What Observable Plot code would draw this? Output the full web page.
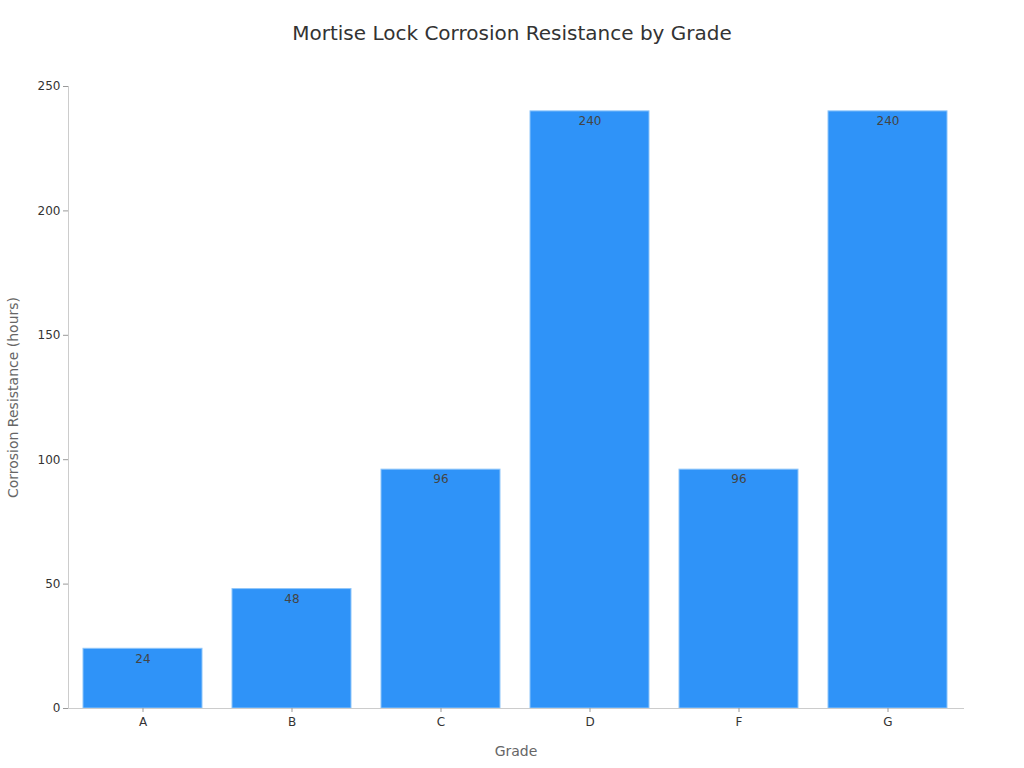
<!DOCTYPE html>
<html>
<head>
<meta charset="utf-8">
<script src="https://cdn.jsdelivr.net/npm/d3@7"></script>
<script src="https://cdn.jsdelivr.net/npm/@observablehq/plot@0.6"></script>
<style>
  body { margin: 0; background: #fff; font-family: "DejaVu Sans", sans-serif; }
  #title { height: 66px; line-height: 66px; text-align: center; font-size: 20px; color: #333; width: 1024px; }
  #chart svg { display: block; }
</style>
</head>
<body>
<div id="title">Mortise Lock Corrosion Resistance by Grade</div>
<div id="chart"></div>
<script>
const grades = ["A", "B", "C", "D", "F", "G"];
const hours = [24, 48, 96, 240, 96, 240];
const yTicks = [0, 50, 100, 150, 200, 250];

const data = grades.map((g, i) => ({grade: g, hours: hours[i]}));

const chart = Plot.plot({
  width: 1024,
  height: 702,
  marginTop: 20,
  marginBottom: 60,
  marginLeft: 68,
  marginRight: 61,
  style: {fontFamily: "DejaVu Sans, sans-serif", fontSize: "12px", color: "#333", background: "#fff"},
  x: {domain: grades, paddingInner: 0.2, paddingOuter: 0.1, label: null},
  y: {domain: [0, 250], label: null},
  marks: [
    Plot.barY(data, {x: "grade", y: "hours", fill: "#2F93F8", stroke: "#8EC5FA", strokeWidth: 1}),
    Plot.text(data, {x: "grade", y: "hours", text: d => String(d.hours), dy: 10, fill: "#444", fontSize: 12}),
    Plot.frame({anchor: "bottom", stroke: "#ccc"}),
    Plot.frame({anchor: "left", stroke: "#ccc"}),
    Plot.axisY({ticks: yTicks, tickSize: 5, tickPadding: 3, stroke: "#999", fill: "#333", label: null}),
    Plot.axisX({tickSize: 4, tickPadding: 5, stroke: "#999", fill: "#333", label: null}),
    Plot.text(["Corrosion Resistance (hours)"], {frameAnchor: "left", textAnchor: "middle", dx: -55, rotate: -90, fontSize: 14, fill: "#666"}),
    Plot.text(["Grade"], {frameAnchor: "bottom", dy: 47, fontSize: 14, fill: "#666"})
  ]
});
document.getElementById("chart").appendChild(chart);
</script>
</body>
</html>
